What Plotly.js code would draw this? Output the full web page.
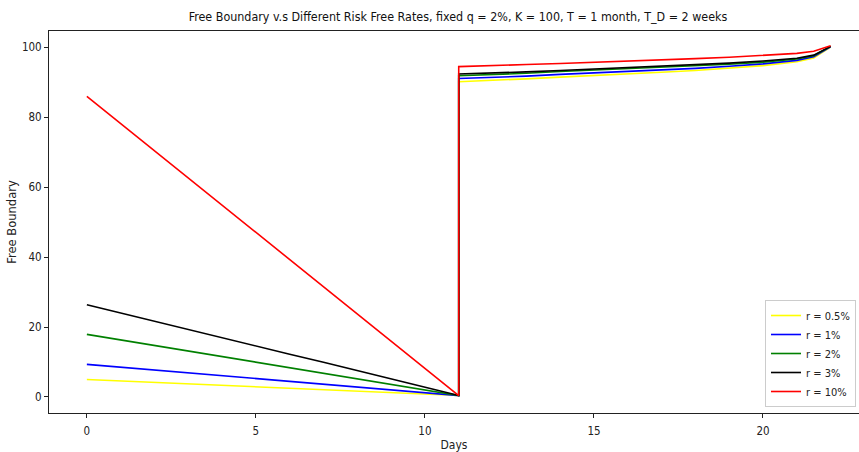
<!DOCTYPE html>
<html>
<head>
<meta charset="utf-8">
<script src="https://cdn.plot.ly/plotly-3.0.1.min.js"></script>
<style>html,body{margin:0;padding:0;background:#fff;}#chart{width:859px;height:452px;}</style>
</head>
<body>
<div id="chart"></div>
<script>
// Days (day 11 appears twice: end of the falling branch, then the jump)
const days = [0,1,2,3,4,5,6,7,8,9,10,11,11,12,13,14,15,16,17,18,19,20,21,21.5,22];

const seriesNames = ["r = 0.5%", "r = 1%", "r = 2%", "r = 3%", "r = 10%"];
const seriesColors = ["#ffff00", "#0000ff", "#008000", "#000000", "#ff0000"];

const r05 = [5.0,4.6,4.2,3.7,3.3,2.9,2.5,2.1,1.7,1.2,0.8,0.4, 90.2,90.5,91.0,91.5,91.9,92.4,92.9,93.4,94.0,94.8,95.9,97.0,100.1];
const r1  = [9.3,8.5,7.7,6.9,6.1,5.3,4.4,3.6,2.8,2.0,1.2,0.4, 91.1,91.4,91.8,92.3,92.7,93.1,93.5,94.0,94.6,95.3,96.3,97.3,100.2];
const r2  = [17.9,16.3,14.7,13.1,11.5,9.9,8.4,6.8,5.2,3.6,2.0,0.4, 91.9,92.2,92.6,93.1,93.5,93.9,94.3,94.7,95.2,95.8,96.7,97.6,100.3];
const r3  = [26.4,24.0,21.7,19.3,17.0,14.6,12.2,9.9,7.5,5.1,2.8,0.4, 92.4,92.6,93.0,93.4,93.8,94.2,94.6,95.0,95.5,96.1,96.9,97.8,100.3];
const r10 = [86.0,78.2,70.4,62.7,54.9,47.1,39.3,31.5,23.7,15.9,8.2,0.4, 94.5,94.7,95.1,95.4,95.7,96.1,96.5,96.8,97.2,97.7,98.3,98.9,100.5];

const xTicks = [0,5,10,15,20];
const yTicks = [0,20,40,60,80,100];

const allSeries = [r05, r1, r2, r3, r10];
const narrow = '"DejaVu Sans Condensed", "Liberation Sans", sans-serif';

const traces = allSeries.map((vals, i) => ({
  x: days, y: vals, type: 'scatter', mode: 'lines',
  name: seriesNames[i],
  line: {color: seriesColors[i], width: 1.6}
}));

const layout = {
  width: 859, height: 452,
  margin: {l: 49, r: 0, t: 31, b: 39, pad: 0},
  paper_bgcolor: '#fff', plot_bgcolor: '#fff',
  font: {family: narrow, size: 11, color: '#222'},
  title: {
    text: 'Free Boundary v.s Different Risk Free Rates, fixed q = 2%, K = 100, T = 1 month, T_D = 2 weeks',
    font: {family: narrow, size: 12.4, color: '#111'},
    x: 458/859, xref: 'container', xanchor: 'center',
    y: 1 - 17/452, yref: 'container', yanchor: 'middle'
  },
  xaxis: {
    range: [-1.12, 22.84], tickvals: xTicks, ticktext: xTicks.map(String),
    showgrid: false, zeroline: false,
    showline: true, linecolor: '#222', linewidth: 1, mirror: true,
    ticks: 'outside', ticklen: 4, tickcolor: '#222', tickwidth: 1,
    ticklabelstandoff: 3,
    tickfont: {family: narrow, size: 11.5, color: '#222'},
    title: {text: 'Days', font: {family: narrow, size: 12, color: '#222'}, standoff: 4}
  },
  yaxis: {
    range: [-4.6, 104.7], tickvals: yTicks, ticktext: yTicks.map(String),
    showgrid: false, zeroline: false,
    showline: true, linecolor: '#222', linewidth: 1, mirror: false,
    ticks: 'outside', ticklen: 4, tickcolor: '#222', tickwidth: 1,
    tickfont: {family: narrow, size: 11.5, color: '#222'},
    title: {text: 'Free Boundary', font: {family: '"DejaVu Sans", sans-serif', size: 11.5, color: '#222'}, standoff: 2}
  },
  showlegend: true,
  legend: {
    x: 1 - 3/810, xanchor: 'right', y: 6/382, yanchor: 'bottom',
    bgcolor: '#fff', bordercolor: '#ccc', borderwidth: 1,
    font: {family: narrow, size: 11, color: '#222'},
    tracegroupgap: 0, itemwidth: 30
  }
};

Plotly.newPlot('chart', traces, layout, {staticPlot: true, displayModeBar: false});
</script>
</body>
</html>
